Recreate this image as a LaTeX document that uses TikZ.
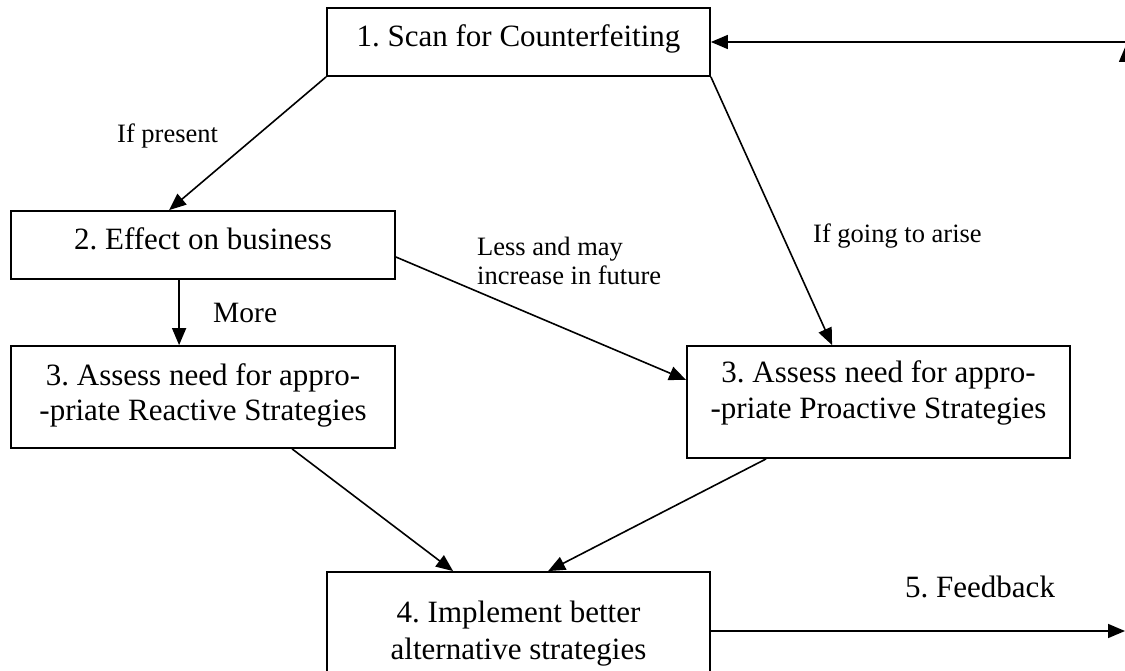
\documentclass[tikz,border=0pt]{standalone}
\usepackage{fontspec}
\setmainfont{Liberation Serif}
\usetikzlibrary{arrows.meta,calc}
\frenchspacing
\begin{document}
\frenchspacing
\begin{tikzpicture}[x=1pt,y=-1pt,
  box/.style={draw,line width=1.8pt,inner sep=0pt,rectangle},
  boxtxt/.style={font=\fontsize{31}{36}\selectfont,anchor=base,inner sep=0pt},
  lbl/.style={font=\fontsize{26.5}{30}\selectfont,anchor=base west,inner sep=0pt},
  arr/.style={line width=1.6pt,-{Triangle[length=17pt,width=14pt]}}]
\useasboundingbox (0,0) rectangle (1125,671);
\fill[white] (0,0) rectangle (1125,671);
\clip (0,0) rectangle (1125,671);
% boxes
\node[box,minimum width=383pt,minimum height=68pt] (b1) at (518.5,42) {};
\node[box,minimum width=384pt,minimum height=68pt] (b2) at (203,245) {};
\node[box,minimum width=384pt,minimum height=102pt] (b3l) at (203,397) {};
\node[box,minimum width=383pt,minimum height=112pt] (b3r) at (878.5,402) {};
\node[box,minimum width=383pt,minimum height=112pt] (b4) at (518.5,628) {};
% box texts
\node[boxtxt] (t1) at (518.5,47) {1. Scan for Counterfeiting};
\node[boxtxt] (t2) at (203,250) {2. Effect on business};
\node[boxtxt] (t3la) at (203,385) {3. Assess need for appro-};
\node[boxtxt] (t3lb) at (203,420) {-priate Reactive Strategies};
\node[boxtxt] (t3ra) at (878.5,382) {3. Assess need for appro-};
\node[boxtxt] (t3rb) at (878.5,418) {-priate Proactive Strategies};
\node[boxtxt] (t4a) at (518.5,622) {4. Implement better};
\node[boxtxt] (t4b) at (518.5,659) {alternative strategies};
% labels
\node[lbl] (l1) at (117,143) {If present};
\node[lbl] (l2a) at (477,256) {Less and may};
\node[lbl] (l2b) at (477,285) {increase in future};
\node[lbl,font=\fontsize{29.5}{33}\selectfont] (l3) at (213,322) {More};
\node[lbl] (l4) at (813,243) {If going to arise};
\node[lbl,font=\fontsize{31}{36}\selectfont] (l5) at (905,597) {5. Feedback};
% connectors
\draw[arr] (b1.south west) -- ($(b2.north west)+(159,0)$);
\draw[arr] (b1.south east) -- ($(b3r.north west)+(146,0)$);
\draw[arr] ($(b2.east)+(0,12)$) -- ($(b3r.west)+(0,-22)$);
\draw[arr] ($(b2.south west)+(169,0)$) -- ($(b3l.north west)+(169,0)$);
\draw[arr] ($(b3l.south west)+(282,0)$) -- ($(b4.north west)+(127,0)$);
\draw[arr] ($(b3r.south west)+(80,0)$) -- ($(b4.north west)+(222,0)$);
\coordinate (fbend) at (1125,631);
\draw[arr] ($(b4.east)+(0,3)$) -- (fbend);
\coordinate (rbot) at (1126,631);
\coordinate (rtop) at (1126,45);
\draw[arr] (rbot) -- (rtop);
\coordinate (topr) at (1126,42);
\draw[arr] (topr) -- (b1.east);
\end{tikzpicture}
\end{document}
